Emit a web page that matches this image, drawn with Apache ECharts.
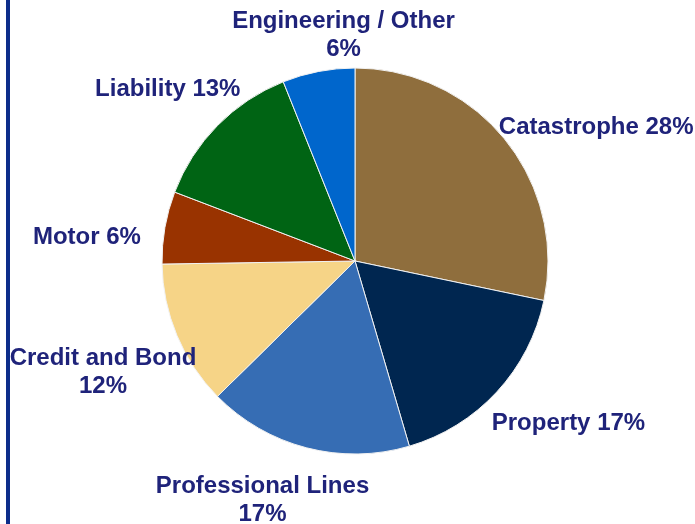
<!DOCTYPE html>
<html>
<head>
<meta charset="utf-8">
<script src="https://cdn.jsdelivr.net/npm/echarts@6/dist/echarts.min.js"></script>
<style>
  html, body { margin: 0; padding: 0; background: #ffffff; }
  #chart { width: 695px; height: 524px; }
</style>
</head>
<body>
<div id="chart"></div>
<script>
// Business mix by line, percent of premium
const categories = ['Catastrophe', 'Property', 'Professional Lines', 'Credit and Bond', 'Motor', 'Liability', 'Engineering / Other'];
const shares = [28, 17, 17, 12, 6, 13, 6];
const labelTexts = ['Catastrophe 28%', 'Property 17%', 'Professional Lines\n17%', 'Credit and Bond\n12%', 'Motor 6%', 'Liability 13%', 'Engineering / Other\n6%'];

// Slice colours and label placement tweaks (offset from the slice edge, text alignment)
const sliceColors = ['#8f6e3d', '#002650', '#366db4', '#f6d487', '#993300', '#006414', '#0066cc'];
const labelNudges = [
  { dx: -6, dy: -12, align: 'left' },
  { dx: -5, dy: 31, align: 'left' },
  { dx: -44, dy: 53, align: 'center' },
  { dx: -74, dy: 37, align: 'center' },
  { dx: -24, dy: 10, align: 'right' },
  { dx: 23, dy: -36, align: 'right' },
  { dx: 25, dy: -36, align: 'center' }
];

const chart = echarts.init(document.getElementById('chart'), null, { renderer: 'canvas' });

chart.setOption({
  backgroundColor: '#ffffff',
  animation: false,
  graphic: [{
    type: 'rect',
    shape: { x: 6, y: 0, width: 4, height: 524 },
    style: { fill: '#0d2d8a' },
    silent: true
  }],
  series: [{
    type: 'pie',
    center: [355, 261],
    radius: 193,
    startAngle: 90,
    clockwise: true,
    avoidLabelOverlap: false,
    itemStyle: { borderColor: '#f2f2f2', borderWidth: 1 },
    label: {
      show: true,
      position: 'outside',
      distanceToLabelLine: 0,
      color: '#1f237a',
      fontFamily: '"Liberation Sans", Arial, sans-serif',
      fontWeight: 'bold',
      fontSize: 24,
      lineHeight: 28,
      formatter: (p) => labelTexts[p.dataIndex]
    },
    labelLine: { show: false, length: 0, length2: 0 },
    emphasis: { disabled: true },
    labelLayout: (p) => {
      const n = labelNudges[p.dataIndex];
      return { dx: n.dx, dy: n.dy, align: n.align };
    },
    data: categories.map((name, i) => ({
      name: name,
      value: shares[i],
      itemStyle: { color: sliceColors[i] }
    }))
  }]
});
</script>
</body>
</html>
